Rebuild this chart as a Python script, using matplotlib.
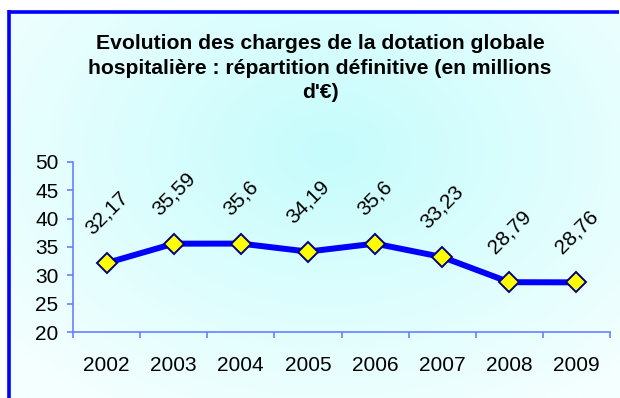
import numpy as np
import matplotlib.pyplot as plt
from matplotlib.colors import LinearSegmentedColormap
from matplotlib.lines import Line2D

plt.rcParams['font.family'] = ['Liberation Sans', 'DejaVu Sans']

years = ["2002", "2003", "2004", "2005", "2006", "2007", "2008", "2009"]
charges = [32.17, 35.59, 35.6, 34.19, 35.6, 33.23, 28.79, 28.76]
value_labels = ["32,17", "35,59", "35,6", "34,19", "35,6", "33,23", "28,79", "28,76"]
yticks = [20, 25, 30, 35, 40, 45, 50]

W, H = 620, 398
fig = plt.figure(figsize=(W / 100, H / 100), dpi=100)

# background panel with a soft radial cyan glow
bg = fig.add_axes([0, 0, 1, 1])
bg.set_xlim(0, W)
bg.set_ylim(H, 0)
bg.axis("off")
xx, yy = np.meshgrid(np.linspace(8, W, 400), np.linspace(12, H, 300))
r = np.sqrt(((xx - 330) / 420) ** 2 + ((yy - 150) / 300) ** 2)
r = np.clip(r, 0, 1)
cmap = LinearSegmentedColormap.from_list("glow", ["#c6fcfc", "#f4ffff"])
bg.imshow(r, cmap=cmap, extent=(8, W, H, 12), aspect="auto", zorder=0)

# blue frame: top and left edges only, the rest runs off the canvas
fx, fy = 8.5 / W, 1 - 11.5 / H
fig.add_artist(Line2D([fx, (W - 1.5) / W], [fy, fy], color="#0000ff",
                      linewidth=2.6, solid_capstyle="butt"))
fig.add_artist(Line2D([fx, fx], [0.0, fy + 1.3 / H], color="#0000ff",
                      linewidth=2.6, solid_capstyle="butt"))

fig.text(320 / W, 1 - 68 / H,
         "Evolution des charges de la dotation globale\n"
         "hospitalière : répartition définitive (en millions\nd'€)",
         ha="center", va="center", fontsize=15.2, fontweight="bold",
         linespacing=1.37)

ax = fig.add_axes([73 / W, 1 - 332 / H, 537 / W, 170 / H])
ax.patch.set_alpha(0)
x = np.arange(len(years))
ax.plot(x, charges, color="#0000ff", linewidth=4.3, zorder=2,
        marker="D", markersize=10, markerfacecolor="#ffff00",
        markeredgecolor="#000080", markeredgewidth=1.4)

for xi, v, lab in zip(x, charges, value_labels):
    ax.annotate(lab, (xi, v), xytext=(0, 18), textcoords="offset points",
                ha="center", va="bottom", rotation=45, fontsize=15,
                clip_on=False)

ax.set_xlim(-0.5, len(years) - 0.5)
ax.set_ylim(20, 50)
ax.set_yticks(yticks)
ax.set_xticks(x)
ax.set_xticklabels(years)
ax.set_xticks(np.arange(len(years) + 1) - 0.5, minor=True)

axis_color = "#6a80ff"
for side in ["top", "right"]:
    ax.spines[side].set_visible(False)
for side in ["left", "bottom"]:
    ax.spines[side].set_color(axis_color)
    ax.spines[side].set_linewidth(1.2)
ax.tick_params(axis="y", direction="out", length=4.5, width=1.2,
               color=axis_color, labelsize=15, pad=6)
ax.tick_params(axis="x", which="major", length=0, labelsize=15, pad=17)
ax.tick_params(axis="x", which="minor", direction="out", length=4.5,
               width=1.2, color=axis_color)

fig.savefig("out.png", dpi=100)
